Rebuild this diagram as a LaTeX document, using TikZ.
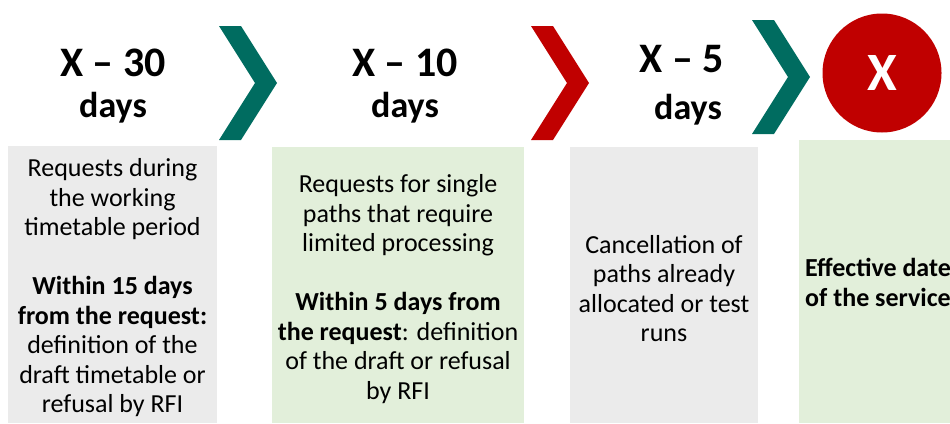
\documentclass[tikz,border=0pt]{standalone}
\usepackage{fontspec}
\setmainfont{Carlito}
\usetikzlibrary{positioning}
\definecolor{chevteal}{RGB}{0,108,96}
\definecolor{chevred}{RGB}{192,0,0}
\definecolor{panelgray}{RGB}{235,235,235}
\definecolor{panelgreen}{RGB}{226,239,218}

\begin{document}
\begin{tikzpicture}[x=1pt,y=-1pt,
   stage/.style={font=\fontsize{42}{46}\selectfont\bfseries,anchor=base},
   unit/.style={font=\fontsize{36}{40}\selectfont\bfseries,anchor=base},
   panel/.style={rectangle,inner sep=0pt},
   body/.style={font=\fontsize{26}{29.5}\selectfont,align=center},
   chev/.pic={\fill (0,0) -- (22,0) -- (58,57) -- (22,114) -- (0,114) -- (36,57) -- cycle;}]
   \clip (0,0) rectangle (950,423);
   \useasboundingbox (0,0) rectangle (950,423);

   % time line
   \node[stage] (h30) at (113,76) {X -- 30};
   \node[unit]  (d30) at (113,117) {days};
   \node[stage] (h10) at (405,76) {X -- 10};
   \node[unit]  (d10) at (405,117) {days};
   \node[stage] (h5)  at (682,72) {X -- 5};
   \node[unit]  (d5)  at (688,119) {days};
   \node[circle,fill=chevred,minimum size=119pt,text=white,
         font=\fontsize{54}{58}\selectfont\bfseries] (hx) at (882,73) {X};

   \pic[fill=chevteal] at (219,26) {chev};
   \pic[fill=chevred]  at (531,26) {chev};
   \pic[fill=chevteal] at (752,20) {chev};

   % panels
   \node[panel,fill=panelgray,minimum width=209pt,minimum height=277pt]  (p30) at (112.5,284.5) {};
   \node[panel,fill=panelgreen,minimum width=252pt,minimum height=276pt] (p10) at (398,285) {};
   \node[panel,fill=panelgray,minimum width=188pt,minimum height=276pt]  (p5)  at (664,285) {};
   \node[panel,fill=panelgreen,anchor=north west,minimum width=200pt,minimum height=283pt] (px) at (799,140) {};

   \node[body] (t30) at ([yshift=-3.5pt]p30.center)
      {Requests during\\the working\\timetable period\\[29.5pt]
       \textbf{Within 15 days}\\\textbf{from the request:}\\definition of the\\draft timetable or\\refusal by RFI};
   \node[body] (t10) at ([yshift=-4pt]p10.center)
      {Requests for single\\paths that require\\limited processing\\[29.5pt]
       \textbf{Within 5 days from}\\\textbf{the request}: definition\\of the draft or refusal\\by RFI};
   \node[body] (t5) at ([yshift=-3.5pt]p5.center)
      {Cancellation of\\paths already\\allocated or test\\runs};
   \node[body,font=\fontsize{26}{29.5}\selectfont\bfseries,align=left,anchor=west,inner sep=0pt] (tx) at (805,282.5)
      {Effective date\\of the service};
\end{tikzpicture}
\end{document}
